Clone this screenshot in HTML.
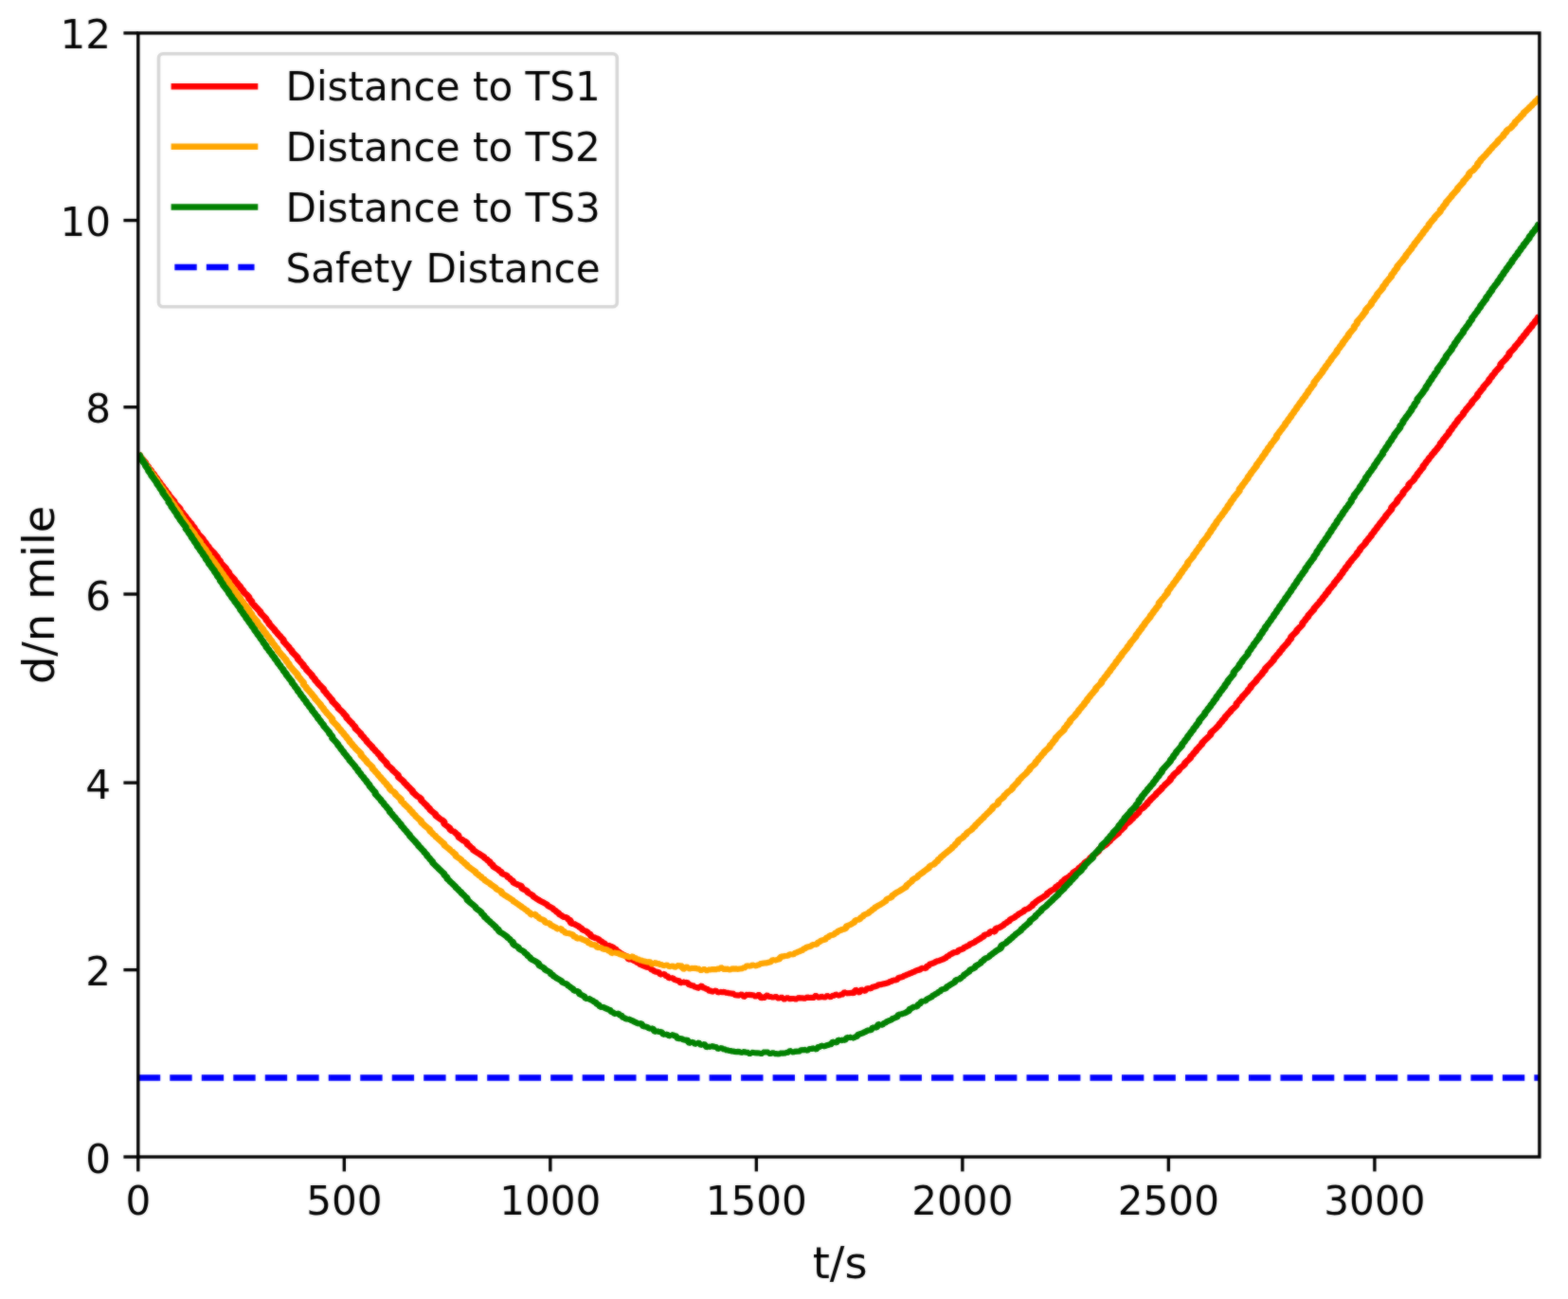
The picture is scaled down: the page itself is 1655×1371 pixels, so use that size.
<!DOCTYPE html>
<html lang="en"><head><meta charset="utf-8"><title>Distance to target ships</title>
<style>html,body{margin:0;padding:0;background:#fff}body{width:1655px;height:1371px;overflow:hidden}svg{display:block}text{font-family:"DejaVu Sans","Liberation Sans",sans-serif;font-size:42.10px;fill:#000;stroke:#fff;stroke-width:0.00px}</style>
</head><body>
<svg width="1655" height="1371" viewBox="0 0 1655 1371">
<defs><filter id="soft" x="0" y="0" width="1655" height="1371" filterUnits="userSpaceOnUse" color-interpolation-filters="sRGB"><feGaussianBlur in="SourceGraphic" stdDeviation="0.80" result="b"/><feComposite in="b" in2="SourceGraphic" operator="arithmetic" k1="0" k2="0.50" k3="0.50" k4="0"/></filter></defs>
<g filter="url(#soft)">
<rect width="1655" height="1371" fill="#fff"/>
<defs><clipPath id="ax"><rect x="145.80" y="34.90" width="1479.10" height="1186.10"/></clipPath></defs>
<g clip-path="url(#ax)" fill="none" stroke-linecap="butt">
<g transform="scale(1.200 1)" stroke-width="6.20" stroke-linejoin="bevel">
<path stroke="#ff0000" d="M121.50 478.9 L123.03 480.6 L123.03 481.7 L125.55 485.0 L125.55 485.1 L128.08 488.4 L128.08 489.7 L130.60 493.0 L130.60 493.6 L133.13 496.9 L133.13 497.6 L135.65 500.8 L135.65 501.8 L138.18 505.1 L138.18 506.0 L140.70 509.3 L140.70 510.1 L143.23 513.4 L143.23 514.2 L145.75 517.5 L145.75 518.2 L148.28 521.4 L148.28 522.4 L150.80 525.6 L150.80 526.0 L153.33 529.2 L153.33 530.7 L155.85 533.9 L155.85 533.6 L158.38 536.8 L158.38 538.4 L160.90 541.6 L160.90 542.2 L163.43 545.4 L163.43 546.2 L165.95 549.4 L165.95 549.8 L168.48 553.0 L168.48 553.9 L171.00 557.0 L171.00 558.3 L173.53 561.5 L173.53 562.7 L176.05 565.9 L176.05 565.8 L178.58 568.9 L178.58 570.0 L181.10 573.1 L181.10 574.2 L183.63 577.3 L183.63 578.1 L186.15 581.2 L186.15 581.1 L188.68 584.2 L188.68 584.8 L191.20 587.9 L191.20 589.1 L193.73 592.2 L193.73 593.6 L196.25 596.7 L196.25 596.7 L198.78 599.7 L198.78 600.9 L201.30 604.0 L201.30 605.5 L203.83 608.6 L203.83 608.7 L206.35 611.8 L206.35 612.6 L208.88 615.7 L208.88 616.2 L211.40 619.3 L211.40 620.3 L213.93 623.3 L213.93 624.3 L216.45 627.3 L216.45 627.0 L218.98 630.1 L218.98 631.8 L221.50 634.8 L221.50 636.1 L224.03 639.2 L224.03 639.4 L226.55 642.4 L226.55 642.8 L229.08 645.8 L229.08 647.0 L231.60 650.0 L231.60 650.1 L234.13 653.1 L234.13 654.3 L236.65 657.3 L236.65 658.6 L239.18 661.6 L239.18 661.7 L241.70 664.7 L241.70 665.4 L244.23 668.4 L244.23 669.0 L246.75 671.9 L246.75 672.3 L249.28 675.3 L249.28 676.9 L251.80 679.9 L251.80 680.3 L254.33 683.3 L254.33 684.1 L256.85 687.1 L256.85 688.0 L259.38 691.0 L259.38 691.1 L261.90 694.1 L261.90 695.5 L264.43 698.4 L264.43 698.8 L266.95 701.7 L266.95 702.9 L269.48 705.8 L269.48 706.7 L272.00 709.6 L272.00 709.8 L274.53 712.7 L274.53 713.8 L277.05 716.8 L277.05 717.7 L279.58 720.6 L279.58 721.2 L282.10 724.1 L282.10 724.2 L284.63 727.1 L284.63 728.6 L287.15 731.5 L287.15 732.3 L289.68 735.2 L289.68 735.8 L292.20 738.7 L292.20 740.1 L294.73 743.0 L294.73 743.1 L297.25 746.0 L297.25 747.1 L299.78 750.0 L299.78 749.9 L302.30 752.7 L302.30 753.4 L304.83 756.3 L304.83 757.7 L307.35 760.5 L307.35 760.9 L309.88 763.7 L309.88 764.2 L312.40 767.0 L312.40 768.6 L314.93 771.4 L314.93 771.5 L317.45 774.3 L317.45 775.3 L319.98 778.1 L319.98 778.7 L322.50 781.5 L322.50 782.5 L325.03 785.3 L325.03 785.6 L327.55 788.4 L327.55 789.2 L330.08 791.9 L330.08 792.3 L332.60 795.0 L332.60 795.6 L335.13 798.4 L335.13 799.7 L337.65 802.4 L337.65 802.6 L340.18 805.3 L340.18 806.8 L342.70 809.5 L342.70 809.5 L345.23 812.1 L345.23 812.8 L347.75 815.4 L347.75 815.5 L350.28 818.2 L350.28 820.0 L352.80 822.6 L352.80 822.5 L355.33 825.1 L355.33 825.9 L357.85 828.5 L357.85 829.0 L360.38 831.6 L360.38 832.0 L362.90 834.6 L362.90 836.0 L365.43 838.5 L365.43 838.7 L367.95 841.2 L367.95 840.8 L370.48 843.3 L370.48 844.9 L373.00 847.4 L373.00 847.8 L375.53 850.2 L375.53 851.0 L378.05 853.4 L378.05 854.5 L380.58 856.9 L380.58 856.9 L383.10 859.3 L383.10 860.6 L385.63 862.9 L385.63 863.0 L388.15 865.3 L388.15 864.9 L390.68 867.2 L390.68 869.4 L393.20 871.7 L393.20 871.7 L395.73 874.0 L395.73 875.4 L398.25 877.6 L398.25 876.8 L400.78 879.0 L400.78 879.5 L403.30 881.7 L403.30 883.5 L405.83 885.6 L405.83 885.6 L408.35 887.8 L408.35 887.4 L410.88 889.6 L410.88 891.1 L413.40 893.2 L413.40 893.7 L415.93 895.8 L415.93 896.8 L418.45 898.9 L418.45 898.9 L420.98 900.9 L420.98 900.7 L423.50 902.8 L423.50 902.8 L426.03 904.8 L426.03 905.3 L428.55 907.3 L428.55 907.8 L431.08 909.8 L431.08 911.0 L433.60 913.0 L433.60 914.2 L436.13 916.2 L436.13 916.2 L438.65 918.1 L438.65 918.6 L441.18 920.5 L441.18 921.4 L443.70 923.3 L443.70 922.7 L446.23 924.6 L446.23 925.4 L448.75 927.2 L448.75 928.0 L451.28 929.8 L451.28 931.3 L453.80 933.1 L453.80 932.6 L456.33 934.4 L456.33 933.7 L458.85 935.4 L458.85 937.4 L461.38 939.1 L461.38 938.9 L463.90 940.6 L463.90 941.8 L466.43 943.5 L466.43 943.5 L468.95 945.2 L468.95 946.3 L471.48 948.0 L471.48 948.2 L474.00 949.9 L474.00 950.1 L476.53 951.8 L476.53 951.6 L479.05 953.3 L479.05 953.3 L481.58 955.0 L481.58 955.7 L484.10 957.4 L484.10 957.4 L486.63 959.0 L486.63 959.8 L489.15 961.5 L489.15 962.2 L491.68 963.8 L491.68 964.8 L494.20 966.4 L494.20 966.7 L496.73 968.3 L496.73 967.5 L499.25 969.1 L499.25 969.8 L501.78 971.4 L501.78 973.8 L504.30 975.4 L504.30 974.7 L506.83 976.3 L506.83 976.3 L509.35 977.9 L509.35 978.4 L511.88 980.0 L511.88 980.9 L514.40 982.5 L514.40 982.2 L516.93 983.8 L516.93 984.7 L519.45 986.2 L519.45 987.7 L521.98 989.3 L521.98 989.0 L524.50 990.5 L524.50 990.1 L527.03 991.6 L527.03 992.3 L529.55 993.8 L529.55 994.3 L532.08 995.8 L532.08 996.6 L534.60 998.1 L534.60 997.4 L537.13 998.9 L537.13 998.6 L539.65 1000.1 L539.65 1000.8 L542.18 1002.2 L542.18 1003.4 L544.70 1004.9 L544.70 1005.3 L547.23 1006.8 L547.23 1007.1 L549.75 1008.5 L549.75 1008.5 L552.28 1009.9 L552.28 1011.7 L554.80 1013.1 L554.80 1012.2 L557.33 1013.6 L557.33 1013.7 L559.85 1015.0 L559.85 1015.5 L562.38 1016.8 L562.38 1017.4 L564.90 1018.6 L564.90 1018.8 L567.43 1020.1 L567.43 1019.9 L569.95 1021.1 L569.95 1020.7 L572.48 1021.9 L572.48 1023.0 L575.00 1024.2 L575.00 1024.7 L577.53 1025.9 L577.53 1025.6 L580.05 1026.7 L580.05 1027.7 L582.58 1028.8 L582.58 1027.7 L585.10 1028.7 L585.10 1029.6 L587.63 1030.6 L587.63 1031.6 L590.15 1032.6 L590.15 1031.9 L592.68 1032.8 L592.68 1033.7 L595.20 1034.6 L595.20 1034.6 L597.73 1035.5 L597.73 1036.7 L600.25 1037.5 L600.25 1036.3 L602.78 1037.1 L602.78 1036.6 L605.30 1037.4 L605.30 1038.9 L607.83 1039.7 L607.83 1039.9 L610.35 1040.6 L610.35 1041.3 L612.88 1041.9 L612.88 1042.3 L615.40 1042.9 L615.40 1040.5 L617.93 1041.1 L617.93 1042.3 L620.45 1042.9 L620.45 1043.6 L622.98 1044.2 L622.98 1045.4 L625.50 1045.9 L625.50 1046.1 L628.03 1046.6 L628.03 1045.5 L630.55 1046.0 L630.55 1047.0 L633.08 1047.4 L633.08 1046.7 L635.60 1047.2 L635.60 1046.9 L638.13 1047.3 L638.13 1047.6 L640.65 1047.9 L640.65 1048.2 L643.18 1048.5 L643.18 1048.6 L645.70 1048.9 L645.70 1050.0 L648.23 1050.3 L648.23 1050.3 L650.75 1050.6 L650.75 1049.5 L653.28 1049.8 L653.28 1051.5 L655.80 1051.8 L655.80 1049.8 L658.33 1050.0 L658.33 1049.9 L660.85 1050.1 L660.85 1050.2 L663.38 1050.5 L663.38 1051.3 L665.90 1051.5 L665.90 1050.0 L668.43 1050.2 L668.43 1053.0 L670.95 1053.2 L670.95 1052.6 L673.48 1052.8 L673.48 1050.7 L676.00 1050.8 L676.00 1051.8 L678.53 1052.0 L678.53 1052.4 L681.05 1052.5 L681.05 1052.0 L683.58 1052.1 L683.58 1053.4 L686.10 1053.5 L686.10 1052.8 L688.63 1052.9 L688.63 1054.3 L691.15 1054.4 L691.15 1053.3 L693.68 1053.4 L693.68 1054.1 L696.20 1054.1 L696.20 1054.0 L698.73 1054.0 L698.73 1054.3 L701.25 1054.3 L701.25 1053.3 L703.78 1053.2 L703.78 1053.3 L706.30 1053.3 L706.30 1053.7 L708.83 1053.7 L708.83 1052.8 L711.35 1052.7 L711.35 1053.0 L713.88 1052.9 L713.88 1053.0 L716.40 1052.8 L716.40 1051.2 L718.93 1051.0 L718.93 1052.6 L721.45 1052.4 L721.45 1052.1 L723.98 1051.9 L723.98 1052.5 L726.50 1052.3 L726.50 1051.4 L729.03 1051.1 L729.03 1052.2 L731.55 1051.9 L731.55 1051.0 L734.08 1050.7 L734.08 1050.0 L736.60 1049.6 L736.60 1050.6 L739.13 1050.2 L739.13 1049.8 L741.65 1049.4 L741.65 1047.9 L744.18 1047.4 L744.18 1048.5 L746.70 1048.0 L746.70 1048.2 L749.23 1047.7 L749.23 1048.3 L751.75 1047.8 L751.75 1045.2 L754.28 1044.7 L754.28 1047.4 L756.80 1046.9 L756.80 1045.1 L759.33 1044.5 L759.33 1045.9 L761.85 1045.3 L761.85 1043.8 L764.38 1043.1 L764.38 1043.4 L766.90 1042.7 L766.90 1042.0 L769.43 1041.3 L769.43 1041.2 L771.95 1040.4 L771.95 1039.8 L774.48 1039.0 L774.48 1039.2 L777.00 1038.4 L777.00 1038.5 L779.53 1037.7 L779.53 1037.7 L782.05 1036.9 L782.05 1036.4 L784.58 1035.5 L784.58 1035.2 L787.10 1034.3 L787.10 1034.5 L789.63 1033.6 L789.63 1032.4 L792.15 1031.5 L792.15 1031.7 L794.68 1030.7 L794.68 1030.2 L797.20 1029.2 L797.20 1028.9 L799.73 1027.9 L799.73 1027.7 L802.25 1026.7 L802.25 1026.4 L804.78 1025.4 L804.78 1025.0 L807.30 1023.9 L807.30 1024.0 L809.83 1023.0 L809.83 1022.5 L812.35 1021.4 L812.35 1022.5 L814.88 1021.4 L814.88 1020.0 L817.40 1018.9 L817.40 1017.9 L819.93 1016.8 L819.93 1016.9 L822.45 1015.7 L822.45 1015.3 L824.98 1014.2 L824.98 1014.5 L827.50 1013.3 L827.50 1013.3 L830.03 1012.1 L830.03 1011.9 L832.55 1010.6 L832.55 1009.7 L835.08 1008.5 L835.08 1007.7 L837.60 1006.5 L837.60 1006.1 L840.13 1004.9 L840.13 1005.5 L842.65 1004.2 L842.65 1003.3 L845.18 1002.1 L845.18 1002.2 L847.70 1000.9 L847.70 1000.2 L850.23 998.9 L850.23 998.7 L852.75 997.4 L852.75 996.8 L855.28 995.5 L855.28 995.5 L857.80 994.1 L857.80 993.5 L860.33 992.1 L860.33 991.7 L862.85 990.3 L862.85 989.8 L865.38 988.4 L865.38 987.3 L867.90 985.9 L867.90 986.3 L870.43 984.8 L870.43 983.8 L872.95 982.3 L872.95 984.0 L875.48 982.5 L875.48 980.5 L878.00 979.0 L878.00 979.5 L880.53 978.0 L880.53 977.8 L883.05 976.2 L883.05 975.4 L885.58 973.9 L885.58 973.4 L888.10 971.8 L888.10 970.8 L890.63 969.2 L890.63 969.3 L893.15 967.7 L893.15 967.1 L895.68 965.5 L895.68 964.9 L898.20 963.3 L898.20 963.3 L900.73 961.6 L900.73 960.9 L903.25 959.2 L903.25 959.7 L905.78 958.0 L905.78 957.6 L908.30 955.8 L908.30 954.4 L910.83 952.6 L910.83 951.9 L913.35 950.1 L913.35 949.9 L915.88 948.1 L915.88 948.0 L918.40 946.2 L918.40 946.0 L920.93 944.2 L920.93 943.1 L923.45 941.2 L923.45 940.8 L925.98 939.0 L925.98 939.3 L928.50 937.4 L928.50 936.3 L931.03 934.4 L931.03 934.1 L933.55 932.2 L933.55 931.3 L936.08 929.3 L936.08 928.5 L938.60 926.5 L938.60 926.7 L941.13 924.7 L941.13 924.1 L943.65 922.1 L943.65 921.2 L946.18 919.1 L946.18 919.2 L948.70 917.1 L948.70 916.5 L951.23 914.4 L951.23 914.0 L953.75 911.9 L953.75 910.8 L956.28 908.7 L956.28 908.8 L958.80 906.7 L958.80 905.6 L961.33 903.4 L961.33 903.2 L963.85 901.0 L963.85 900.7 L966.38 898.5 L966.38 896.7 L968.90 894.5 L968.90 894.7 L971.43 892.5 L971.43 892.6 L973.95 890.3 L973.95 889.7 L976.48 887.4 L976.48 886.4 L979.00 884.1 L979.00 884.0 L981.53 881.6 L981.53 881.4 L984.05 879.1 L984.05 878.0 L986.58 875.7 L986.58 875.2 L989.10 872.8 L989.10 871.2 L991.63 868.8 L991.63 868.9 L994.15 866.5 L994.15 866.0 L996.68 863.5 L996.68 862.8 L999.20 860.4 L999.20 860.0 L1001.73 857.6 L1001.73 855.8 L1004.25 853.3 L1004.25 853.8 L1006.78 851.3 L1006.78 850.7 L1009.30 848.2 L1009.30 847.1 L1011.83 844.6 L1011.83 844.0 L1014.35 841.4 L1014.35 841.1 L1016.88 838.6 L1016.88 837.7 L1019.40 835.2 L1019.40 835.0 L1021.93 832.4 L1021.93 831.4 L1024.45 828.8 L1024.45 828.5 L1026.98 825.9 L1026.98 825.8 L1029.50 823.2 L1029.50 821.6 L1032.03 818.9 L1032.03 818.1 L1034.55 815.4 L1034.55 815.7 L1037.08 813.0 L1037.08 811.9 L1039.60 809.2 L1039.60 809.4 L1042.13 806.7 L1042.13 805.3 L1044.65 802.6 L1044.65 802.7 L1047.18 800.0 L1047.18 798.5 L1049.70 795.8 L1049.70 795.1 L1052.23 792.4 L1052.23 791.3 L1054.75 788.6 L1054.75 788.2 L1057.28 785.5 L1057.28 784.1 L1059.80 781.3 L1059.80 781.1 L1062.33 778.3 L1062.33 778.2 L1064.85 775.4 L1064.85 773.7 L1067.38 770.9 L1067.38 771.0 L1069.90 768.2 L1069.90 768.0 L1072.43 765.2 L1072.43 764.2 L1074.95 761.4 L1074.95 760.7 L1077.48 757.9 L1077.48 756.7 L1080.00 753.9 L1080.00 753.5 L1082.53 750.6 L1082.53 750.0 L1085.05 747.1 L1085.05 747.2 L1087.58 744.3 L1087.58 742.5 L1090.10 739.7 L1090.10 739.0 L1092.63 736.1 L1092.63 735.4 L1095.15 732.5 L1095.15 732.2 L1097.68 729.3 L1097.68 728.4 L1100.20 725.5 L1100.20 724.1 L1102.73 721.2 L1102.73 721.1 L1105.25 718.2 L1105.25 717.2 L1107.78 714.3 L1107.78 714.1 L1110.30 711.1 L1110.30 710.0 L1112.83 707.1 L1112.83 705.7 L1115.35 702.7 L1115.35 702.8 L1117.88 699.9 L1117.88 699.4 L1120.40 696.4 L1120.40 695.3 L1122.93 692.3 L1122.93 691.8 L1125.45 688.9 L1125.45 687.9 L1127.98 684.9 L1127.98 684.2 L1130.50 681.2 L1130.50 681.1 L1133.03 678.1 L1133.03 676.9 L1135.55 673.9 L1135.55 672.2 L1138.08 669.1 L1138.08 669.3 L1140.60 666.3 L1140.60 665.3 L1143.13 662.3 L1143.13 662.2 L1145.65 659.1 L1145.65 657.5 L1148.18 654.5 L1148.18 653.8 L1150.70 650.7 L1150.70 649.6 L1153.23 646.6 L1153.23 646.3 L1155.75 643.2 L1155.75 642.1 L1158.28 639.0 L1158.28 638.7 L1160.80 635.6 L1160.80 635.0 L1163.33 632.0 L1163.33 631.1 L1165.85 628.0 L1165.85 627.3 L1168.38 624.2 L1168.38 623.1 L1170.90 620.0 L1170.90 619.6 L1173.43 616.5 L1173.43 615.4 L1175.95 612.3 L1175.95 611.8 L1178.48 608.7 L1178.48 607.7 L1181.00 604.6 L1181.00 603.4 L1183.53 600.3 L1183.53 599.3 L1186.05 596.2 L1186.05 595.2 L1188.58 592.0 L1188.58 591.4 L1191.10 588.3 L1191.10 588.0 L1193.63 584.9 L1193.63 583.7 L1196.15 580.6 L1196.15 579.4 L1198.68 576.3 L1198.68 576.4 L1201.20 573.2 L1201.20 572.2 L1203.73 569.0 L1203.73 568.5 L1206.25 565.3 L1206.25 564.3 L1208.78 561.1 L1208.78 560.3 L1211.30 557.1 L1211.30 556.3 L1213.83 553.1 L1213.83 552.3 L1216.35 549.1 L1216.35 548.6 L1218.88 545.4 L1218.88 544.3 L1221.40 541.1 L1221.40 540.8 L1223.93 537.6 L1223.93 535.7 L1226.45 532.4 L1226.45 532.5 L1228.98 529.3 L1228.98 528.0 L1231.50 524.7 L1231.50 524.4 L1234.03 521.2 L1234.03 519.6 L1236.55 516.4 L1236.55 516.3 L1239.08 513.1 L1239.08 511.5 L1241.60 508.3 L1241.60 508.8 L1244.13 505.6 L1244.13 504.6 L1246.65 501.4 L1246.65 500.4 L1249.18 497.2 L1249.18 496.6 L1251.70 493.4 L1251.70 491.8 L1254.23 488.6 L1254.23 487.8 L1256.75 484.6 L1256.75 483.8 L1259.28 480.6 L1259.28 480.2 L1261.80 477.0 L1261.80 476.5 L1264.33 473.3 L1264.33 472.8 L1266.85 469.6 L1266.85 468.2 L1269.38 465.0 L1269.38 464.2 L1271.90 461.0 L1271.90 460.5 L1274.43 457.3 L1274.43 456.0 L1276.95 452.8 L1276.95 451.9 L1279.48 448.7 L1279.48 447.8 L1282.00 444.6 L1282.00 443.7 L1284.53 440.5 L1284.53 440.4 L1287.05 437.2 L1287.05 435.8 L1289.58 432.6 L1289.58 432.0 L1292.10 428.8 L1292.10 428.5 L1294.63 425.3 L1294.63 424.1 L1297.15 421.0 L1297.15 421.0 L1299.68 417.9 L1299.68 416.2 L1302.20 413.1 L1302.20 412.5 L1304.73 409.3 L1304.73 408.4 L1307.25 405.2 L1307.25 405.1 L1309.78 401.9 L1309.78 400.6 L1312.30 397.5 L1312.30 396.7 L1314.83 393.6 L1314.83 392.9 L1317.35 389.8 L1317.35 389.6 L1319.88 386.5 L1319.88 384.4 L1322.40 381.3 L1322.40 381.4 L1324.93 378.3 L1324.93 377.8 L1327.45 374.7 L1327.45 372.8 L1329.98 369.7 L1329.98 369.7 L1332.50 366.6 L1332.50 365.7 L1335.03 362.7 L1335.03 362.4 L1337.55 359.3 L1337.55 358.2 L1340.08 355.2 L1340.08 354.5 L1342.60 351.5 L1342.60 350.6 L1345.13 347.5 L1345.13 346.9 L1347.65 343.9 L1347.65 342.9 L1350.18 339.9 L1350.18 339.3 L1352.70 336.3 L1352.70 335.0 L1354.08 333.9"/>
<path stroke="#ffa500" d="M121.50 479.0 L123.03 480.7 L123.03 481.9 L125.55 485.4 L125.55 486.3 L128.08 489.8 L128.08 490.7 L130.60 494.2 L130.60 495.0 L133.13 498.5 L133.13 499.4 L135.65 502.9 L135.65 503.6 L138.18 507.1 L138.18 508.3 L140.70 511.8 L140.70 512.5 L143.23 516.0 L143.23 516.8 L145.75 520.3 L145.75 521.4 L148.28 524.9 L148.28 525.7 L150.80 529.2 L150.80 529.7 L153.33 533.2 L153.33 534.4 L155.85 537.8 L155.85 538.4 L158.38 541.9 L158.38 543.2 L160.90 546.7 L160.90 547.6 L163.43 551.1 L163.43 551.7 L165.95 555.1 L165.95 556.3 L168.48 559.7 L168.48 559.8 L171.00 563.3 L171.00 564.6 L173.53 568.0 L173.53 568.4 L176.05 571.8 L176.05 573.1 L178.58 576.5 L178.58 577.0 L181.10 580.4 L181.10 581.4 L183.63 584.8 L183.63 586.0 L186.15 589.4 L186.15 590.0 L188.68 593.4 L188.68 594.1 L191.20 597.5 L191.20 598.5 L193.73 601.9 L193.73 602.9 L196.25 606.2 L196.25 607.2 L198.78 610.5 L198.78 611.2 L201.30 614.5 L201.30 615.7 L203.83 619.1 L203.83 619.8 L206.35 623.2 L206.35 624.0 L208.88 627.4 L208.88 628.1 L211.40 631.5 L211.40 632.6 L213.93 635.9 L213.93 636.6 L216.45 639.9 L216.45 640.4 L218.98 643.7 L218.98 645.0 L221.50 648.3 L221.50 649.7 L224.03 653.0 L224.03 653.1 L226.55 656.4 L226.55 657.6 L229.08 660.9 L229.08 661.2 L231.60 664.5 L231.60 665.5 L234.13 668.7 L234.13 669.5 L236.65 672.7 L236.65 673.5 L239.18 676.8 L239.18 677.9 L241.70 681.1 L241.70 681.7 L244.23 685.0 L244.23 686.4 L246.75 689.6 L246.75 689.8 L249.28 693.0 L249.28 693.3 L251.80 696.5 L251.80 697.7 L254.33 700.9 L254.33 702.1 L256.85 705.3 L256.85 705.7 L259.38 708.9 L259.38 709.0 L261.90 712.2 L261.90 713.5 L264.43 716.6 L264.43 717.1 L266.95 720.2 L266.95 722.3 L269.48 725.4 L269.48 726.2 L272.00 729.3 L272.00 729.6 L274.53 732.7 L274.53 733.3 L277.05 736.4 L277.05 737.3 L279.58 740.4 L279.58 740.6 L282.10 743.7 L282.10 744.6 L284.63 747.7 L284.63 748.6 L287.15 751.7 L287.15 752.3 L289.68 755.3 L289.68 755.5 L292.20 758.6 L292.20 760.7 L294.73 763.7 L294.73 763.7 L297.25 766.7 L297.25 767.5 L299.78 770.5 L299.78 771.1 L302.30 774.0 L302.30 774.7 L304.83 777.7 L304.83 778.5 L307.35 781.5 L307.35 782.6 L309.88 785.5 L309.88 786.1 L312.40 789.0 L312.40 789.5 L314.93 792.4 L314.93 792.4 L317.45 795.3 L317.45 797.1 L319.98 799.9 L319.98 800.2 L322.50 803.1 L322.50 804.0 L325.03 806.8 L325.03 806.7 L327.55 809.5 L327.55 811.1 L330.08 813.9 L330.08 814.4 L332.60 817.2 L332.60 818.0 L335.13 820.8 L335.13 821.4 L337.65 824.2 L337.65 824.8 L340.18 827.5 L340.18 828.4 L342.70 831.1 L342.70 832.5 L345.23 835.3 L345.23 834.6 L347.75 837.3 L347.75 838.3 L350.28 841.0 L350.28 841.0 L352.80 843.6 L352.80 845.3 L355.33 847.9 L355.33 848.5 L357.85 851.1 L357.85 851.3 L360.38 853.9 L360.38 854.8 L362.90 857.3 L362.90 858.1 L365.43 860.7 L365.43 861.3 L367.95 863.9 L367.95 864.0 L370.48 866.5 L370.48 868.0 L373.00 870.4 L373.00 870.8 L375.53 873.3 L375.53 873.2 L378.05 875.6 L378.05 877.1 L380.58 879.5 L380.58 879.9 L383.10 882.3 L383.10 883.0 L385.63 885.3 L385.63 885.6 L388.15 888.0 L388.15 888.2 L390.68 890.6 L390.68 892.0 L393.20 894.3 L393.20 894.3 L395.73 896.6 L395.73 897.0 L398.25 899.2 L398.25 899.7 L400.78 901.9 L400.78 903.3 L403.30 905.5 L403.30 905.3 L405.83 907.5 L405.83 908.1 L408.35 910.3 L408.35 910.9 L410.88 913.0 L410.88 913.8 L413.40 915.9 L413.40 916.1 L415.93 918.2 L415.93 918.2 L418.45 920.2 L418.45 921.2 L420.98 923.2 L420.98 923.7 L423.50 925.6 L423.50 926.2 L426.03 928.1 L426.03 928.8 L428.55 930.7 L428.55 930.7 L431.08 932.6 L431.08 933.0 L433.60 934.9 L433.60 935.1 L436.13 937.0 L436.13 937.8 L438.65 939.7 L438.65 939.3 L441.18 941.1 L441.18 942.7 L443.70 944.5 L443.70 944.6 L446.23 946.4 L446.23 946.6 L448.75 948.3 L448.75 948.5 L451.28 950.2 L451.28 951.1 L453.80 952.7 L453.80 953.0 L456.33 954.7 L456.33 955.2 L458.85 956.8 L458.85 957.4 L461.38 959.0 L461.38 959.5 L463.90 961.1 L463.90 961.9 L466.43 963.5 L466.43 964.5 L468.95 966.0 L468.95 964.2 L471.48 965.7 L471.48 966.7 L474.00 968.2 L474.00 969.1 L476.53 970.5 L476.53 970.2 L479.05 971.6 L479.05 973.1 L481.58 974.5 L481.58 973.8 L484.10 975.2 L484.10 976.2 L486.63 977.5 L486.63 977.7 L489.15 979.0 L489.15 979.6 L491.68 980.9 L491.68 979.5 L494.20 980.7 L494.20 982.0 L496.73 983.2 L496.73 984.1 L499.25 985.3 L499.25 984.5 L501.78 985.7 L501.78 985.5 L504.30 986.7 L504.30 988.1 L506.83 989.2 L506.83 989.8 L509.35 990.9 L509.35 989.9 L511.88 991.0 L511.88 991.4 L514.40 992.4 L514.40 992.5 L516.93 993.5 L516.93 994.9 L519.45 995.9 L519.45 996.5 L521.98 997.4 L521.98 997.0 L524.50 998.0 L524.50 999.4 L527.03 1000.3 L527.03 999.8 L529.55 1000.7 L529.55 1001.1 L532.08 1002.0 L532.08 1001.8 L534.60 1002.6 L534.60 1003.3 L537.13 1004.1 L537.13 1005.4 L539.65 1006.2 L539.65 1005.1 L542.18 1005.9 L542.18 1005.7 L544.70 1006.5 L544.70 1007.0 L547.23 1007.8 L547.23 1008.0 L549.75 1008.7 L549.75 1008.9 L552.28 1009.6 L552.28 1009.8 L554.80 1010.5 L554.80 1009.3 L557.33 1010.0 L557.33 1010.8 L559.85 1011.5 L559.85 1012.2 L562.38 1012.8 L562.38 1013.3 L564.90 1013.8 L564.90 1014.1 L567.43 1014.7 L567.43 1014.8 L569.95 1015.4 L569.95 1015.1 L572.48 1015.6 L572.48 1017.1 L575.00 1017.6 L575.00 1016.1 L577.53 1016.6 L577.53 1016.9 L580.05 1017.4 L580.05 1017.9 L582.58 1018.3 L582.58 1018.8 L585.10 1019.2 L585.10 1018.5 L587.63 1018.9 L587.63 1019.8 L590.15 1020.2 L590.15 1019.5 L592.68 1019.9 L592.68 1020.4 L595.20 1020.7 L595.20 1019.0 L597.73 1019.3 L597.73 1019.4 L600.25 1019.7 L600.25 1022.4 L602.78 1022.7 L602.78 1020.7 L605.30 1020.9 L605.30 1022.1 L607.83 1022.3 L607.83 1021.8 L610.35 1022.0 L610.35 1021.9 L612.88 1022.1 L612.88 1022.5 L615.40 1022.6 L615.40 1023.9 L617.93 1024.0 L617.93 1023.0 L620.45 1023.1 L620.45 1024.1 L622.98 1024.1 L622.98 1023.4 L625.50 1023.5 L625.50 1023.2 L628.03 1023.2 L628.03 1023.2 L630.55 1023.2 L630.55 1022.7 L633.08 1022.6 L633.08 1021.5 L635.60 1021.4 L635.60 1022.8 L638.13 1022.7 L638.13 1022.9 L640.65 1022.7 L640.65 1023.4 L643.18 1023.2 L643.18 1022.6 L645.70 1022.4 L645.70 1022.7 L648.23 1022.4 L648.23 1022.8 L650.75 1022.5 L650.75 1022.5 L653.28 1022.2 L653.28 1021.5 L655.80 1021.1 L655.80 1019.7 L658.33 1019.3 L658.33 1019.8 L660.85 1019.3 L660.85 1018.9 L663.38 1018.5 L663.38 1019.6 L665.90 1019.0 L665.90 1018.7 L668.43 1018.1 L668.43 1017.3 L670.95 1016.7 L670.95 1016.8 L673.48 1016.2 L673.48 1016.5 L676.00 1015.8 L676.00 1015.7 L678.53 1015.1 L678.53 1013.8 L681.05 1013.1 L681.05 1013.7 L683.58 1012.9 L683.58 1012.9 L686.10 1012.1 L686.10 1010.1 L688.63 1009.3 L688.63 1009.6 L691.15 1008.7 L691.15 1009.2 L693.68 1008.3 L693.68 1007.8 L696.20 1006.8 L696.20 1007.7 L698.73 1006.8 L698.73 1006.1 L701.25 1005.1 L701.25 1004.8 L703.78 1003.8 L703.78 1003.7 L706.30 1002.6 L706.30 1001.8 L708.83 1000.7 L708.83 1000.2 L711.35 999.1 L711.35 999.4 L713.88 998.2 L713.88 997.7 L716.40 996.5 L716.40 997.3 L718.93 996.1 L718.93 995.0 L721.45 993.8 L721.45 993.2 L723.98 991.9 L723.98 992.3 L726.50 991.1 L726.50 990.0 L729.03 988.7 L729.03 988.1 L731.55 986.7 L731.55 987.3 L734.08 985.9 L734.08 985.2 L736.60 983.8 L736.60 983.2 L739.13 981.8 L739.13 982.0 L741.65 980.5 L741.65 981.2 L744.18 979.7 L744.18 977.8 L746.70 976.4 L746.70 976.7 L749.23 975.2 L749.23 974.8 L751.75 973.3 L751.75 972.0 L754.28 970.4 L754.28 971.2 L756.80 969.6 L756.80 968.7 L759.33 967.2 L759.33 966.2 L761.85 964.6 L761.85 964.9 L764.38 963.3 L764.38 962.6 L766.90 961.0 L766.90 960.3 L769.43 958.7 L769.43 957.9 L771.95 956.3 L771.95 956.2 L774.48 954.6 L774.48 954.5 L777.00 952.8 L777.00 952.5 L779.53 950.8 L779.53 949.5 L782.05 947.8 L782.05 948.3 L784.58 946.5 L784.58 945.2 L787.10 943.4 L787.10 943.2 L789.63 941.3 L789.63 941.5 L792.15 939.7 L792.15 939.6 L794.68 937.8 L794.68 937.8 L797.20 935.9 L797.20 934.5 L799.73 932.6 L799.73 932.0 L802.25 930.1 L802.25 928.9 L804.78 927.0 L804.78 927.3 L807.30 925.3 L807.30 924.4 L809.83 922.4 L809.83 922.3 L812.35 920.3 L812.35 919.9 L814.88 917.9 L814.88 917.7 L817.40 915.7 L817.40 914.6 L819.93 912.6 L819.93 913.2 L822.45 911.2 L822.45 910.6 L824.98 908.5 L824.98 907.4 L827.50 905.3 L827.50 904.6 L830.03 902.4 L830.03 902.0 L832.55 899.8 L832.55 899.6 L835.08 897.4 L835.08 897.2 L837.60 895.0 L837.60 894.1 L840.13 891.9 L840.13 891.0 L842.65 888.8 L842.65 887.4 L845.18 885.2 L845.18 885.4 L847.70 883.2 L847.70 882.4 L850.23 880.1 L850.23 879.3 L852.75 877.0 L852.75 877.3 L855.28 875.0 L855.28 874.2 L857.80 871.9 L857.80 871.0 L860.33 868.6 L860.33 868.0 L862.85 865.6 L862.85 865.1 L865.38 862.7 L865.38 861.9 L867.90 859.4 L867.90 859.0 L870.43 856.6 L870.43 856.0 L872.95 853.5 L872.95 852.1 L875.48 849.6 L875.48 850.4 L878.00 847.9 L878.00 845.9 L880.53 843.4 L880.53 843.5 L883.05 841.0 L883.05 839.9 L885.58 837.4 L885.58 837.0 L888.10 834.4 L888.10 834.8 L890.63 832.2 L890.63 830.8 L893.15 828.2 L893.15 827.8 L895.68 825.2 L895.68 823.9 L898.20 821.3 L898.20 820.8 L900.73 818.2 L900.73 818.2 L903.25 815.5 L903.25 814.9 L905.78 812.2 L905.78 810.8 L908.30 808.1 L908.30 808.4 L910.83 805.7 L910.83 804.3 L913.35 801.6 L913.35 800.7 L915.88 798.0 L915.88 797.2 L918.40 794.4 L918.40 793.7 L920.93 790.9 L920.93 791.0 L923.45 788.1 L923.45 786.9 L925.98 784.0 L925.98 783.2 L928.50 780.3 L928.50 778.9 L931.03 776.0 L931.03 775.8 L933.55 772.9 L933.55 773.0 L936.08 770.1 L936.08 768.7 L938.60 765.8 L938.60 764.9 L941.13 762.0 L941.13 760.6 L943.65 757.6 L943.65 757.4 L946.18 754.4 L946.18 753.7 L948.70 750.7 L948.70 749.8 L951.23 746.8 L951.23 746.2 L953.75 743.2 L953.75 742.2 L956.28 739.2 L956.28 738.1 L958.80 735.0 L958.80 734.4 L961.33 731.3 L961.33 730.9 L963.85 727.8 L963.85 726.5 L966.38 723.4 L966.38 723.7 L968.90 720.5 L968.90 718.9 L971.43 715.8 L971.43 715.2 L973.95 712.0 L973.95 711.2 L976.48 708.0 L976.48 707.1 L979.00 703.9 L979.00 703.1 L981.53 699.9 L981.53 699.0 L984.05 695.7 L984.05 695.0 L986.58 691.7 L986.58 690.7 L989.10 687.4 L989.10 687.1 L991.63 683.9 L991.63 683.0 L994.15 679.7 L994.15 678.7 L996.68 675.4 L996.68 675.1 L999.20 671.8 L999.20 670.5 L1001.73 667.2 L1001.73 666.5 L1004.25 663.2 L1004.25 662.3 L1006.78 658.9 L1006.78 658.0 L1009.30 654.6 L1009.30 654.4 L1011.83 651.1 L1011.83 650.0 L1014.35 646.7 L1014.35 645.8 L1016.88 642.5 L1016.88 641.9 L1019.40 638.6 L1019.40 636.4 L1021.93 633.1 L1021.93 632.9 L1024.45 629.5 L1024.45 629.2 L1026.98 625.8 L1026.98 624.1 L1029.50 620.7 L1029.50 620.0 L1032.03 616.6 L1032.03 615.9 L1034.55 612.5 L1034.55 611.8 L1037.08 608.4 L1037.08 607.3 L1039.60 603.9 L1039.60 603.0 L1042.13 599.6 L1042.13 599.0 L1044.65 595.6 L1044.65 593.9 L1047.18 590.5 L1047.18 590.5 L1049.70 587.0 L1049.70 585.9 L1052.23 582.5 L1052.23 581.8 L1054.75 578.3 L1054.75 577.5 L1057.28 574.1 L1057.28 572.7 L1059.80 569.2 L1059.80 569.2 L1062.33 565.7 L1062.33 564.7 L1064.85 561.2 L1064.85 560.1 L1067.38 556.6 L1067.38 555.6 L1069.90 552.1 L1069.90 551.0 L1072.43 547.5 L1072.43 547.0 L1074.95 543.6 L1074.95 543.0 L1077.48 539.5 L1077.48 538.7 L1080.00 535.3 L1080.00 534.1 L1082.53 530.6 L1082.53 529.6 L1085.05 526.2 L1085.05 525.4 L1087.58 521.9 L1087.58 521.8 L1090.10 518.3 L1090.10 516.4 L1092.63 512.9 L1092.63 512.2 L1095.15 508.7 L1095.15 508.3 L1097.68 504.8 L1097.68 503.5 L1100.20 500.0 L1100.20 499.3 L1102.73 495.8 L1102.73 495.3 L1105.25 491.9 L1105.25 490.6 L1107.78 487.2 L1107.78 486.5 L1110.30 483.0 L1110.30 482.1 L1112.83 478.7 L1112.83 477.6 L1115.35 474.1 L1115.35 473.2 L1117.88 469.8 L1117.88 468.9 L1120.40 465.5 L1120.40 465.1 L1122.93 461.6 L1122.93 459.8 L1125.45 456.3 L1125.45 455.7 L1127.98 452.2 L1127.98 451.7 L1130.50 448.2 L1130.50 447.2 L1133.03 443.8 L1133.03 443.1 L1135.55 439.7 L1135.55 438.8 L1138.08 435.3 L1138.08 434.5 L1140.60 431.0 L1140.60 430.0 L1143.13 426.6 L1143.13 425.8 L1145.65 422.4 L1145.65 421.7 L1148.18 418.3 L1148.18 417.5 L1150.70 414.0 L1150.70 412.9 L1153.23 409.5 L1153.23 408.8 L1155.75 405.4 L1155.75 403.6 L1158.28 400.2 L1158.28 399.7 L1160.80 396.3 L1160.80 395.9 L1163.33 392.5 L1163.33 391.4 L1165.85 387.9 L1165.85 387.0 L1168.38 383.6 L1168.38 382.9 L1170.90 379.5 L1170.90 378.5 L1173.43 375.1 L1173.43 374.8 L1175.95 371.4 L1175.95 370.0 L1178.48 366.6 L1178.48 366.1 L1181.00 362.7 L1181.00 361.6 L1183.53 358.2 L1183.53 357.7 L1186.05 354.4 L1186.05 353.1 L1188.58 349.7 L1188.58 349.5 L1191.10 346.1 L1191.10 344.6 L1193.63 341.3 L1193.63 339.7 L1196.15 336.3 L1196.15 336.3 L1198.68 332.9 L1198.68 332.3 L1201.20 328.9 L1201.20 327.3 L1203.73 323.9 L1203.73 324.2 L1206.25 320.8 L1206.25 319.3 L1208.78 316.0 L1208.78 315.3 L1211.30 311.9 L1211.30 310.7 L1213.83 307.4 L1213.83 307.3 L1216.35 303.9 L1216.35 302.7 L1218.88 299.3 L1218.88 298.4 L1221.40 295.1 L1221.40 294.9 L1223.93 291.6 L1223.93 290.1 L1226.45 286.8 L1226.45 286.0 L1228.98 282.7 L1228.98 281.2 L1231.50 277.9 L1231.50 277.7 L1234.03 274.5 L1234.03 273.8 L1236.55 270.5 L1236.55 269.4 L1239.08 266.2 L1239.08 265.6 L1241.60 262.3 L1241.60 261.4 L1244.13 258.2 L1244.13 257.1 L1246.65 253.9 L1246.65 253.3 L1249.18 250.1 L1249.18 249.3 L1251.70 246.1 L1251.70 245.2 L1254.23 242.0 L1254.23 241.4 L1256.75 238.2 L1256.75 236.8 L1259.28 233.6 L1259.28 233.3 L1261.80 230.2 L1261.80 229.4 L1264.33 226.3 L1264.33 226.3 L1266.85 223.2 L1266.85 221.8 L1269.38 218.7 L1269.38 217.9 L1271.90 214.8 L1271.90 213.6 L1274.43 210.6 L1274.43 210.1 L1276.95 207.0 L1276.95 206.2 L1279.48 203.2 L1279.48 203.1 L1282.00 200.1 L1282.00 198.7 L1284.53 195.7 L1284.53 195.4 L1287.05 192.4 L1287.05 191.4 L1289.58 188.5 L1289.58 188.0 L1292.10 185.1 L1292.10 183.2 L1294.63 180.3 L1294.63 180.9 L1297.15 178.0 L1297.15 177.4 L1299.68 174.5 L1299.68 172.8 L1302.20 169.9 L1302.20 168.9 L1304.73 166.1 L1304.73 165.9 L1307.25 163.0 L1307.25 162.5 L1309.78 159.7 L1309.78 159.0 L1312.30 156.2 L1312.30 155.5 L1314.83 152.8 L1314.83 152.6 L1317.35 149.9 L1317.35 148.8 L1319.88 146.1 L1319.88 146.0 L1322.40 143.3 L1322.40 142.1 L1324.93 139.4 L1324.93 138.4 L1327.45 135.7 L1327.45 136.3 L1329.98 133.7 L1329.98 133.0 L1332.50 130.4 L1332.50 128.9 L1335.03 126.3 L1335.03 126.0 L1337.55 123.5 L1337.55 122.7 L1340.08 120.2 L1340.08 119.1 L1342.60 116.7 L1342.60 116.4 L1345.13 114.0 L1345.13 113.5 L1347.65 111.0 L1347.65 110.4 L1350.18 108.0 L1350.18 107.3 L1352.70 104.9 L1352.70 103.9 L1354.08 103.1"/>
<path stroke="#008000" d="M121.50 479.0 L123.03 480.9 L123.03 482.2 L125.55 486.1 L125.55 486.9 L128.08 490.8 L128.08 491.9 L130.60 495.7 L130.60 497.0 L133.13 500.8 L133.13 501.8 L135.65 505.6 L135.65 505.9 L138.18 509.7 L138.18 510.8 L140.70 514.6 L140.70 515.2 L143.23 519.0 L143.23 520.4 L145.75 524.2 L145.75 524.6 L148.28 528.3 L148.28 529.9 L150.80 533.6 L150.80 534.7 L153.33 538.4 L153.33 539.1 L155.85 542.9 L155.85 544.0 L158.38 547.7 L158.38 548.6 L160.90 552.3 L160.90 552.6 L163.43 556.3 L163.43 557.9 L165.95 561.6 L165.95 562.3 L168.48 566.0 L168.48 567.0 L171.00 570.7 L171.00 571.5 L173.53 575.2 L173.53 576.4 L176.05 580.0 L176.05 580.8 L178.58 584.4 L178.58 585.1 L181.10 588.7 L181.10 589.9 L183.63 593.6 L183.63 594.6 L186.15 598.2 L186.15 598.8 L188.68 602.4 L188.68 603.3 L191.20 606.9 L191.20 607.9 L193.73 611.5 L193.73 612.9 L196.25 616.5 L196.25 617.5 L198.78 621.1 L198.78 621.4 L201.30 625.0 L201.30 626.2 L203.83 629.7 L203.83 630.5 L206.35 634.0 L206.35 634.6 L208.88 638.1 L208.88 638.6 L211.40 642.1 L211.40 643.5 L213.93 647.0 L213.93 647.8 L216.45 651.3 L216.45 652.1 L218.98 655.6 L218.98 656.4 L221.50 659.8 L221.50 660.8 L224.03 664.3 L224.03 665.2 L226.55 668.7 L226.55 669.4 L229.08 672.9 L229.08 673.7 L231.60 677.2 L231.60 678.1 L234.13 681.6 L234.13 682.8 L236.65 686.2 L236.65 686.8 L239.18 690.2 L239.18 690.9 L241.70 694.3 L241.70 695.1 L244.23 698.5 L244.23 699.5 L246.75 702.9 L246.75 703.5 L249.28 706.9 L249.28 707.8 L251.80 711.1 L251.80 712.2 L254.33 715.6 L254.33 716.0 L256.85 719.3 L256.85 720.6 L259.38 724.0 L259.38 724.7 L261.90 728.1 L261.90 729.1 L264.43 732.5 L264.43 733.3 L266.95 736.6 L266.95 737.4 L269.48 740.7 L269.48 741.6 L272.00 744.9 L272.00 745.5 L274.53 748.8 L274.53 749.8 L277.05 753.1 L277.05 753.7 L279.58 757.0 L279.58 758.0 L282.10 761.2 L282.10 761.9 L284.63 765.2 L284.63 766.1 L287.15 769.3 L287.15 769.6 L289.68 772.8 L289.68 774.0 L292.20 777.2 L292.20 779.0 L294.73 782.2 L294.73 782.1 L297.25 785.3 L297.25 786.4 L299.78 789.6 L299.78 790.4 L302.30 793.6 L302.30 794.4 L304.83 797.6 L304.83 798.2 L307.35 801.4 L307.35 802.3 L309.88 805.4 L309.88 805.6 L312.40 808.8 L312.40 809.6 L314.93 812.7 L314.93 813.8 L317.45 816.9 L317.45 817.6 L319.98 820.7 L319.98 821.4 L322.50 824.5 L322.50 825.3 L325.03 828.4 L325.03 829.6 L327.55 832.7 L327.55 833.1 L330.08 836.2 L330.08 837.9 L332.60 840.9 L332.60 841.2 L335.13 844.2 L335.13 844.9 L337.65 847.9 L337.65 848.8 L340.18 851.8 L340.18 852.2 L342.70 855.2 L342.70 856.7 L345.23 859.6 L345.23 860.2 L347.75 863.1 L347.75 863.7 L350.28 866.7 L350.28 867.2 L352.80 870.2 L352.80 871.2 L355.33 874.2 L355.33 874.8 L357.85 877.7 L357.85 878.3 L360.38 881.2 L360.38 882.3 L362.90 885.2 L362.90 885.5 L365.43 888.3 L365.43 888.9 L367.95 891.7 L367.95 892.6 L370.48 895.4 L370.48 895.8 L373.00 898.6 L373.00 899.3 L375.53 902.0 L375.53 903.2 L378.05 906.0 L378.05 906.7 L380.58 909.5 L380.58 910.7 L383.10 913.5 L383.10 913.7 L385.63 916.4 L385.63 916.7 L388.15 919.4 L388.15 919.5 L390.68 922.2 L390.68 923.4 L393.20 926.0 L393.20 927.3 L395.73 930.0 L395.73 930.3 L398.25 932.9 L398.25 933.2 L400.78 935.8 L400.78 936.5 L403.30 939.0 L403.30 939.4 L405.83 942.0 L405.83 942.5 L408.35 945.1 L408.35 945.4 L410.88 947.9 L410.88 949.7 L413.40 952.2 L413.40 952.4 L415.93 954.8 L415.93 954.9 L418.45 957.4 L418.45 958.3 L420.98 960.8 L420.98 960.6 L423.50 963.0 L423.50 964.1 L426.03 966.5 L426.03 967.6 L428.55 969.9 L428.55 970.4 L431.08 972.8 L431.08 973.2 L433.60 975.5 L433.60 975.9 L436.13 978.2 L436.13 979.1 L438.65 981.4 L438.65 982.7 L441.18 984.9 L441.18 984.5 L443.70 986.7 L443.70 986.6 L446.23 988.8 L446.23 989.3 L448.75 991.5 L448.75 992.1 L451.28 994.3 L451.28 996.4 L453.80 998.5 L453.80 998.1 L456.33 1000.2 L456.33 1001.1 L458.85 1003.2 L458.85 1002.9 L461.38 1004.9 L461.38 1005.6 L463.90 1007.6 L463.90 1008.6 L466.43 1010.6 L466.43 1011.5 L468.95 1013.4 L468.95 1013.2 L471.48 1015.1 L471.48 1015.0 L474.00 1016.9 L474.00 1018.7 L476.53 1020.6 L476.53 1020.3 L479.05 1022.2 L479.05 1023.1 L481.58 1024.9 L481.58 1024.7 L484.10 1026.5 L484.10 1027.6 L486.63 1029.4 L486.63 1030.1 L489.15 1031.8 L489.15 1032.1 L491.68 1033.8 L491.68 1033.8 L494.20 1035.5 L494.20 1036.4 L496.73 1038.0 L496.73 1037.6 L499.25 1039.3 L499.25 1040.0 L501.78 1041.7 L501.78 1042.2 L504.30 1043.8 L504.30 1044.9 L506.83 1046.4 L506.83 1045.7 L509.35 1047.2 L509.35 1048.8 L511.88 1050.3 L511.88 1050.4 L514.40 1051.9 L514.40 1053.1 L516.93 1054.5 L516.93 1053.5 L519.45 1055.0 L519.45 1055.1 L521.98 1056.5 L521.98 1056.9 L524.50 1058.2 L524.50 1059.4 L527.03 1060.8 L527.03 1061.8 L529.55 1063.2 L529.55 1062.5 L532.08 1063.8 L532.08 1063.9 L534.60 1065.1 L534.60 1065.2 L537.13 1066.4 L537.13 1067.5 L539.65 1068.7 L539.65 1069.2 L542.18 1070.4 L542.18 1069.2 L544.70 1070.4 L544.70 1071.1 L547.23 1072.2 L547.23 1073.4 L549.75 1074.5 L549.75 1074.9 L552.28 1076.0 L552.28 1075.4 L554.80 1076.5 L554.80 1076.7 L557.33 1077.8 L557.33 1078.2 L559.85 1079.3 L559.85 1079.6 L562.38 1080.6 L562.38 1080.0 L564.90 1081.0 L564.90 1082.6 L567.43 1083.6 L567.43 1083.3 L569.95 1084.3 L569.95 1084.9 L572.48 1085.8 L572.48 1085.2 L575.00 1086.1 L575.00 1088.1 L577.53 1089.0 L577.53 1088.2 L580.05 1089.1 L580.05 1088.8 L582.58 1089.6 L582.58 1091.2 L585.10 1092.1 L585.10 1091.4 L587.63 1092.2 L587.63 1092.8 L590.15 1093.6 L590.15 1091.9 L592.68 1092.7 L592.68 1093.0 L595.20 1093.8 L595.20 1095.5 L597.73 1096.3 L597.73 1095.9 L600.25 1096.6 L600.25 1097.1 L602.78 1097.8 L602.78 1097.4 L605.30 1098.1 L605.30 1100.3 L607.83 1101.0 L607.83 1099.8 L610.35 1100.5 L610.35 1101.2 L612.88 1101.9 L612.88 1100.4 L615.40 1101.1 L615.40 1102.2 L617.93 1102.9 L617.93 1101.9 L620.45 1102.5 L620.45 1104.6 L622.98 1105.1 L622.98 1104.4 L625.50 1105.0 L625.50 1104.1 L628.03 1104.6 L628.03 1104.8 L630.55 1105.3 L630.55 1106.5 L633.08 1107.0 L633.08 1106.0 L635.60 1106.5 L635.60 1107.1 L638.13 1107.5 L638.13 1108.1 L640.65 1108.5 L640.65 1108.7 L643.18 1109.1 L643.18 1109.3 L645.70 1109.6 L645.70 1109.8 L648.23 1110.1 L648.23 1109.9 L650.75 1110.2 L650.75 1110.5 L653.28 1110.8 L653.28 1110.1 L655.80 1110.3 L655.80 1110.7 L658.33 1110.9 L658.33 1111.8 L660.85 1112.0 L660.85 1110.8 L663.38 1111.0 L663.38 1111.2 L665.90 1111.3 L665.90 1111.4 L668.43 1111.5 L668.43 1111.9 L670.95 1112.0 L670.95 1110.5 L673.48 1110.5 L673.48 1110.5 L676.00 1110.5 L676.00 1112.0 L678.53 1111.9 L678.53 1111.3 L681.05 1111.3 L681.05 1112.1 L683.58 1112.0 L683.58 1112.3 L686.10 1112.1 L686.10 1111.7 L688.63 1111.5 L688.63 1111.6 L691.15 1111.4 L691.15 1111.0 L693.68 1110.7 L693.68 1109.5 L696.20 1109.2 L696.20 1110.4 L698.73 1110.1 L698.73 1109.9 L701.25 1109.6 L701.25 1109.8 L703.78 1109.4 L703.78 1108.5 L706.30 1108.1 L706.30 1108.3 L708.83 1107.9 L708.83 1108.7 L711.35 1108.3 L711.35 1107.3 L713.88 1106.8 L713.88 1106.9 L716.40 1106.4 L716.40 1107.4 L718.93 1106.9 L718.93 1105.3 L721.45 1104.7 L721.45 1104.2 L723.98 1103.6 L723.98 1104.4 L726.50 1103.8 L726.50 1103.4 L729.03 1102.7 L729.03 1102.6 L731.55 1101.9 L731.55 1100.3 L734.08 1099.5 L734.08 1100.6 L736.60 1099.8 L736.60 1098.3 L739.13 1097.5 L739.13 1098.4 L741.65 1097.5 L741.65 1098.0 L744.18 1097.1 L744.18 1095.6 L746.70 1094.7 L746.70 1095.3 L749.23 1094.4 L749.23 1095.8 L751.75 1094.9 L751.75 1094.6 L754.28 1093.7 L754.28 1092.1 L756.80 1091.1 L756.80 1091.2 L759.33 1090.2 L759.33 1089.8 L761.85 1088.7 L761.85 1088.3 L764.38 1087.2 L764.38 1087.6 L766.90 1086.6 L766.90 1085.2 L769.43 1084.1 L769.43 1084.8 L771.95 1083.7 L771.95 1081.7 L774.48 1080.6 L774.48 1082.1 L777.00 1081.0 L777.00 1080.2 L779.53 1079.0 L779.53 1078.5 L782.05 1077.3 L782.05 1077.2 L784.58 1076.0 L784.58 1075.4 L787.10 1074.2 L787.10 1074.3 L789.63 1073.0 L789.63 1071.6 L792.15 1070.3 L792.15 1070.7 L794.68 1069.4 L794.68 1069.7 L797.20 1068.4 L797.20 1068.3 L799.73 1066.9 L799.73 1065.3 L802.25 1063.9 L802.25 1063.7 L804.78 1062.3 L804.78 1063.0 L807.30 1061.6 L807.30 1060.3 L809.83 1058.8 L809.83 1057.7 L812.35 1056.2 L812.35 1057.1 L814.88 1055.6 L814.88 1054.9 L817.40 1053.4 L817.40 1053.4 L819.93 1051.9 L819.93 1051.2 L822.45 1049.7 L822.45 1049.3 L824.98 1047.8 L824.98 1047.3 L827.50 1045.8 L827.50 1045.2 L830.03 1043.6 L830.03 1044.2 L832.55 1042.6 L832.55 1041.7 L835.08 1040.1 L835.08 1039.8 L837.60 1038.2 L837.60 1038.1 L840.13 1036.5 L840.13 1035.1 L842.65 1033.4 L842.65 1034.1 L845.18 1032.4 L845.18 1031.7 L847.70 1030.0 L847.70 1029.1 L850.23 1027.3 L850.23 1027.0 L852.75 1025.2 L852.75 1024.1 L855.28 1022.4 L855.28 1022.8 L857.80 1021.0 L857.80 1019.9 L860.33 1018.1 L860.33 1018.1 L862.85 1016.2 L862.85 1015.2 L865.38 1013.4 L865.38 1012.7 L867.90 1010.8 L867.90 1011.2 L870.43 1009.3 L870.43 1008.7 L872.95 1006.8 L872.95 1006.5 L875.48 1004.6 L875.48 1004.3 L878.00 1002.3 L878.00 1002.5 L880.53 1000.5 L880.53 998.3 L883.05 996.3 L883.05 996.6 L885.58 994.6 L885.58 994.0 L888.10 992.0 L888.10 991.5 L890.63 989.4 L890.63 988.8 L893.15 986.7 L893.15 986.2 L895.68 984.1 L895.68 984.0 L898.20 981.8 L898.20 980.8 L900.73 978.6 L900.73 978.1 L903.25 975.9 L903.25 975.5 L905.78 973.3 L905.78 971.9 L908.30 969.7 L908.30 969.7 L910.83 967.4 L910.83 966.3 L913.35 964.0 L913.35 963.6 L915.88 961.2 L915.88 960.2 L918.40 957.8 L918.40 957.9 L920.93 955.5 L920.93 954.9 L923.45 952.5 L923.45 952.2 L925.98 949.8 L925.98 949.2 L928.50 946.8 L928.50 946.5 L931.03 944.0 L931.03 943.0 L933.55 940.5 L933.55 940.4 L936.08 937.9 L936.08 936.7 L938.60 934.2 L938.60 933.8 L941.13 931.3 L941.13 930.4 L943.65 927.8 L943.65 927.3 L946.18 924.6 L946.18 923.7 L948.70 921.1 L948.70 921.2 L951.23 918.6 L951.23 917.5 L953.75 914.8 L953.75 913.5 L956.28 910.8 L956.28 910.6 L958.80 907.8 L958.80 907.9 L961.33 905.2 L961.33 903.0 L963.85 900.2 L963.85 900.0 L966.38 897.2 L966.38 896.9 L968.90 894.1 L968.90 892.4 L971.43 889.6 L971.43 889.8 L973.95 886.9 L973.95 886.1 L976.48 883.2 L976.48 882.6 L979.00 879.7 L979.00 878.8 L981.53 875.9 L981.53 875.7 L984.05 872.8 L984.05 871.4 L986.58 868.4 L986.58 867.8 L989.10 864.8 L989.10 863.4 L991.63 860.4 L991.63 860.3 L994.15 857.3 L994.15 856.5 L996.68 853.5 L996.68 853.5 L999.20 850.5 L999.20 849.6 L1001.73 846.5 L1001.73 844.8 L1004.25 841.7 L1004.25 840.6 L1006.78 837.5 L1006.78 837.0 L1009.30 833.9 L1009.30 833.3 L1011.83 830.2 L1011.83 829.8 L1014.35 826.7 L1014.35 825.8 L1016.88 822.6 L1016.88 821.8 L1019.40 818.7 L1019.40 817.8 L1021.93 814.7 L1021.93 813.2 L1024.45 810.0 L1024.45 809.9 L1026.98 806.7 L1026.98 806.6 L1029.50 803.4 L1029.50 802.2 L1032.03 799.0 L1032.03 797.9 L1034.55 794.7 L1034.55 793.6 L1037.08 790.4 L1037.08 790.3 L1039.60 787.0 L1039.60 785.7 L1042.13 782.4 L1042.13 781.7 L1044.65 778.4 L1044.65 777.3 L1047.18 774.0 L1047.18 773.3 L1049.70 770.0 L1049.70 769.2 L1052.23 765.9 L1052.23 765.1 L1054.75 761.8 L1054.75 760.3 L1057.28 757.0 L1057.28 756.9 L1059.80 753.6 L1059.80 752.4 L1062.33 749.0 L1062.33 748.5 L1064.85 745.2 L1064.85 744.4 L1067.38 741.0 L1067.38 740.2 L1069.90 736.8 L1069.90 735.7 L1072.43 732.3 L1072.43 731.5 L1074.95 728.1 L1074.95 727.6 L1077.48 724.1 L1077.48 723.1 L1080.00 719.6 L1080.00 718.6 L1082.53 715.1 L1082.53 715.0 L1085.05 711.6 L1085.05 709.6 L1087.58 706.2 L1087.58 706.4 L1090.10 702.9 L1090.10 701.5 L1092.63 698.1 L1092.63 697.3 L1095.15 693.8 L1095.15 693.7 L1097.68 690.2 L1097.68 688.7 L1100.20 685.2 L1100.20 684.5 L1102.73 681.0 L1102.73 680.0 L1105.25 676.5 L1105.25 676.1 L1107.78 672.6 L1107.78 671.4 L1110.30 667.9 L1110.30 666.9 L1112.83 663.4 L1112.83 662.1 L1115.35 658.6 L1115.35 658.0 L1117.88 654.5 L1117.88 653.7 L1120.40 650.2 L1120.40 649.2 L1122.93 645.6 L1122.93 644.9 L1125.45 641.3 L1125.45 640.2 L1127.98 636.7 L1127.98 636.0 L1130.50 632.5 L1130.50 631.6 L1133.03 628.0 L1133.03 627.2 L1135.55 623.7 L1135.55 622.8 L1138.08 619.3 L1138.08 618.4 L1140.60 614.8 L1140.60 613.7 L1143.13 610.1 L1143.13 609.3 L1145.65 605.7 L1145.65 605.1 L1148.18 601.5 L1148.18 600.2 L1150.70 596.6 L1150.70 596.0 L1153.23 592.4 L1153.23 592.0 L1155.75 588.4 L1155.75 587.3 L1158.28 583.7 L1158.28 582.3 L1160.80 578.7 L1160.80 577.7 L1163.33 574.1 L1163.33 573.3 L1165.85 569.7 L1165.85 568.9 L1168.38 565.2 L1168.38 564.2 L1170.90 560.6 L1170.90 559.6 L1173.43 556.0 L1173.43 555.1 L1175.95 551.5 L1175.95 550.2 L1178.48 546.6 L1178.48 545.9 L1181.00 542.3 L1181.00 541.2 L1183.53 537.6 L1183.53 537.1 L1186.05 533.4 L1186.05 533.0 L1188.58 529.3 L1188.58 527.6 L1191.10 523.9 L1191.10 522.6 L1193.63 519.0 L1193.63 518.8 L1196.15 515.2 L1196.15 514.0 L1198.68 510.4 L1198.68 509.5 L1201.20 505.9 L1201.20 504.4 L1203.73 500.8 L1203.73 500.1 L1206.25 496.4 L1206.25 495.9 L1208.78 492.2 L1208.78 491.2 L1211.30 487.5 L1211.30 486.8 L1213.83 483.1 L1213.83 482.5 L1216.35 478.9 L1216.35 477.3 L1218.88 473.6 L1218.88 472.8 L1221.40 469.1 L1221.40 468.1 L1223.93 464.4 L1223.93 463.5 L1226.45 459.8 L1226.45 458.8 L1228.98 455.1 L1228.98 454.9 L1231.50 451.2 L1231.50 449.7 L1234.03 446.0 L1234.03 444.8 L1236.55 441.1 L1236.55 440.6 L1239.08 436.9 L1239.08 436.5 L1241.60 432.8 L1241.60 431.6 L1244.13 427.9 L1244.13 426.7 L1246.65 423.0 L1246.65 421.4 L1249.18 417.8 L1249.18 417.7 L1251.70 414.0 L1251.70 413.4 L1254.23 409.7 L1254.23 408.5 L1256.75 404.8 L1256.75 403.7 L1259.28 400.1 L1259.28 399.1 L1261.80 395.5 L1261.80 394.8 L1264.33 391.1 L1264.33 389.7 L1266.85 386.1 L1266.85 385.7 L1269.38 382.1 L1269.38 381.0 L1271.90 377.4 L1271.90 376.0 L1274.43 372.4 L1274.43 372.2 L1276.95 368.6 L1276.95 367.4 L1279.48 363.8 L1279.48 362.6 L1282.00 359.0 L1282.00 358.2 L1284.53 354.6 L1284.53 354.3 L1287.05 350.7 L1287.05 349.3 L1289.58 345.7 L1289.58 345.2 L1292.10 341.7 L1292.10 340.8 L1294.63 337.3 L1294.63 335.7 L1297.15 332.2 L1297.15 331.7 L1299.68 328.2 L1299.68 327.5 L1302.20 324.0 L1302.20 322.9 L1304.73 319.4 L1304.73 318.9 L1307.25 315.4 L1307.25 314.1 L1309.78 310.6 L1309.78 309.9 L1312.30 306.4 L1312.30 305.3 L1314.83 301.8 L1314.83 301.4 L1317.35 298.0 L1317.35 297.1 L1319.88 293.6 L1319.88 292.5 L1322.40 289.1 L1322.40 288.1 L1324.93 284.7 L1324.93 283.9 L1327.45 280.4 L1327.45 279.7 L1329.98 276.3 L1329.98 275.1 L1332.50 271.7 L1332.50 271.2 L1335.03 267.8 L1335.03 266.9 L1337.55 263.5 L1337.55 262.7 L1340.08 259.4 L1340.08 258.5 L1342.60 255.2 L1342.60 254.7 L1345.13 251.4 L1345.13 250.0 L1347.65 246.7 L1347.65 246.0 L1350.18 242.7 L1350.18 242.1 L1352.70 238.8 L1352.70 237.4 L1354.08 236.2"/>
</g>
<path stroke="#0000ff" stroke-width="6.50" stroke-dasharray="23.38 10.11" d="M145.8 1137.4 H1624.9"/>
</g>
<rect x="145.80" y="34.90" width="1479.10" height="1186.10" fill="none" stroke="#000" stroke-width="3.37" stroke-linejoin="miter"/>
<g stroke="#000" stroke-width="3.37" fill="none">
<path d="M145.80 1221.00 v15.40"/>
<path d="M363.31 1221.00 v15.40"/>
<path d="M580.83 1221.00 v15.40"/>
<path d="M798.34 1221.00 v15.40"/>
<path d="M1015.86 1221.00 v15.40"/>
<path d="M1233.37 1221.00 v15.40"/>
<path d="M1450.89 1221.00 v15.40"/>
<path d="M145.80 1221.00 h-15.40"/>
<path d="M145.80 1023.62 h-15.40"/>
<path d="M145.80 826.13 h-15.40"/>
<path d="M145.80 627.05 h-15.40"/>
<path d="M145.80 429.67 h-15.40"/>
<path d="M145.80 232.58 h-15.40"/>
<path d="M145.80 34.90 h-15.40"/>
</g>
<g text-anchor="middle">
<text x="145.80" y="1282.10">0</text>
<text x="363.31" y="1282.10">500</text>
<text x="580.83" y="1282.10">1000</text>
<text x="798.34" y="1282.10">1500</text>
<text x="1015.86" y="1282.10">2000</text>
<text x="1233.37" y="1282.10">2500</text>
<text x="1450.89" y="1282.10">3000</text>
</g>
<g text-anchor="end">
<text x="117.10" y="1237.50">0</text>
<text x="117.10" y="1040.12">2</text>
<text x="117.10" y="842.63">4</text>
<text x="117.10" y="643.55">6</text>
<text x="117.10" y="446.17">8</text>
<text x="117.10" y="249.08">10</text>
<text x="117.10" y="51.40">12</text>
</g>
<text x="886.65" y="1349.30" text-anchor="middle" style="font-size:46.31px">t/s</text>
<text transform="translate(56.50 627.95) rotate(-90)" text-anchor="middle" style="font-size:46.31px">d/n mile</text>
<rect x="167.50" y="56.80" width="483.80" height="267.00" rx="4.50" fill="#fff" fill-opacity="0.8" stroke="#ccc" stroke-opacity="0.8" stroke-width="3.60"/>
<path d="M183.84 91.20 H269.04" stroke="#ff0000" stroke-width="6.50" stroke-linecap="square" fill="none"/>
<text x="301.52" y="105.94">Distance to TS1</text>
<path d="M183.84 154.80 H269.04" stroke="#ffa500" stroke-width="6.50" stroke-linecap="square" fill="none"/>
<text x="301.52" y="169.94">Distance to TS2</text>
<path d="M183.84 218.40 H269.04" stroke="#008000" stroke-width="6.50" stroke-linecap="square" fill="none"/>
<text x="301.52" y="234.13">Distance to TS3</text>
<path d="M184.34 282.00 H268.54" stroke="#0000ff" stroke-width="6.50" stroke-dasharray="23.38 10.11" fill="none"/>
<text x="301.52" y="298.04">Safety Distance</text>
</g>
</svg>
</body></html>
